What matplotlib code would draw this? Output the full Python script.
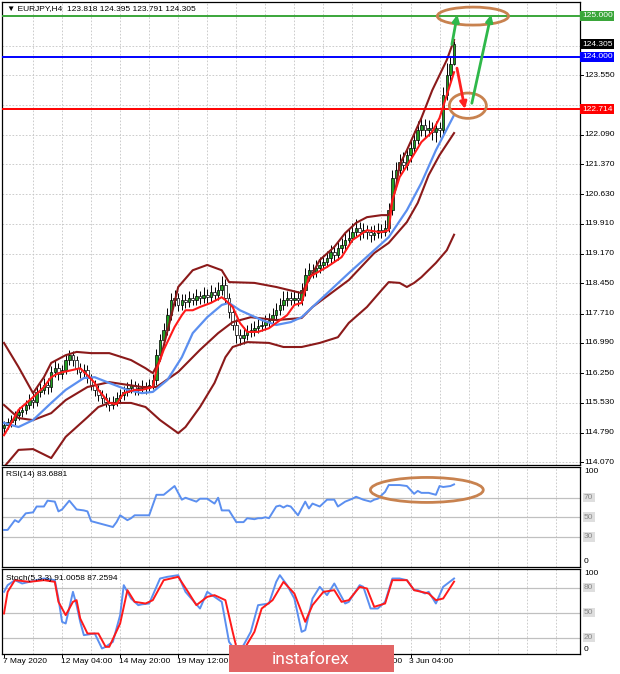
import matplotlib
matplotlib.use("Agg")
import matplotlib.pyplot as plt
import matplotlib.transforms as mtransforms
from matplotlib.patches import Ellipse, Rectangle

# ---------------- data ----------------
title_text = "\u25bc EURJPY,H4  123.818 124.395 123.791 124.305"
rsi_title = "RSI(14) 83.6881"
stoch_title = "Stoch(5,3,3) 91.0058 87.2594"

opens = [114.90, 114.98, 115.05, 115.10, 115.22, 115.30, 115.35, 115.47, 115.59, 115.55,
         115.79, 115.84, 115.96, 115.90, 116.28, 116.37, 116.22, 116.32, 116.58, 116.69,
         116.57, 116.37, 116.28, 116.33, 116.13, 115.96, 115.84, 115.71, 115.64, 115.54,
         115.47, 115.54, 115.64, 115.71, 115.79, 115.88, 115.96, 115.84, 115.88, 115.93,
         115.88, 115.96, 116.08, 116.69, 117.06, 117.31, 117.67, 118.04, 118.09, 117.92,
         118.04, 117.99, 118.09, 118.04, 118.14, 118.09, 118.16, 118.11, 118.24, 118.16,
         118.28, 118.41, 118.09, 117.75, 117.43, 117.18, 117.11, 117.18, 117.26, 117.31,
         117.35, 117.40, 117.43, 117.50, 117.55, 117.67, 117.79, 117.92, 118.04, 118.09,
         118.04, 118.09, 118.04, 118.28, 118.65, 118.77, 118.73, 118.82, 118.90, 118.97,
         119.07, 119.22, 119.14, 119.31, 119.39, 119.51, 119.56, 119.71, 119.80, 119.71,
         119.75, 119.71, 119.63, 119.68, 119.75, 119.71, 119.80, 120.24, 121.03, 121.22,
         121.42, 121.35, 121.59, 121.76, 121.96, 122.20, 122.33, 122.20, 122.25, 122.15,
         122.25, 122.20, 123.06, 123.55, 123.818]
highs = [115.07, 115.16, 115.22, 115.32, 115.43, 115.48, 115.60, 115.73, 115.76, 115.91,
         116.00, 116.12, 116.14, 116.42, 116.56, 116.51, 116.46, 116.72, 116.82, 116.80,
         116.68, 116.51, 116.48, 116.44, 116.24, 116.08, 115.96, 115.84, 115.76, 115.66,
         115.68, 115.78, 115.86, 115.94, 116.04, 116.11, 116.06, 116.01, 116.08, 116.04,
         116.11, 116.24, 116.84, 117.22, 117.49, 117.85, 118.22, 118.29, 118.22, 118.19,
         118.20, 118.25, 118.22, 118.32, 118.27, 118.35, 118.31, 118.42, 118.37, 118.47,
         118.62, 118.55, 118.22, 117.89, 117.57, 117.32, 117.37, 117.42, 117.47, 117.52,
         117.57, 117.59, 117.67, 117.73, 117.85, 117.97, 118.09, 118.25, 118.27, 118.23,
         118.29, 118.25, 118.45, 118.82, 118.95, 118.92, 119.02, 119.09, 119.15, 119.25,
         119.39, 119.35, 119.49, 119.57, 119.69, 119.77, 119.92, 120.02, 119.95, 119.92,
         119.89, 119.85, 119.87, 119.93, 119.91, 119.99, 120.42, 121.22, 121.42, 121.62,
         121.66, 121.78, 121.95, 122.17, 122.42, 122.55, 122.47, 122.45, 122.39, 122.43,
         122.41, 123.27, 123.85, 123.99, 124.395]
lows = [114.78, 114.87, 114.93, 114.99, 115.10, 115.17, 115.24, 115.36, 115.40, 115.45,
        115.67, 115.73, 115.75, 115.80, 116.15, 116.09, 116.11, 116.22, 116.45, 116.43,
        116.24, 116.14, 116.16, 116.00, 115.83, 115.70, 115.57, 115.50, 115.41, 115.33,
        115.37, 115.44, 115.53, 115.60, 115.69, 115.77, 115.72, 115.71, 115.77, 115.75,
        115.78, 115.85, 115.97, 116.55, 116.93, 117.19, 117.55, 117.90, 117.77, 117.80,
        117.85, 117.87, 117.91, 117.93, 117.95, 117.97, 117.98, 118.00, 118.03, 118.05,
        118.17, 117.95, 117.60, 117.30, 117.00, 116.93, 116.97, 117.05, 117.13, 117.17,
        117.23, 117.27, 117.31, 117.37, 117.43, 117.55, 117.67, 117.80, 117.90, 117.91,
        117.93, 117.90, 117.93, 118.15, 118.50, 118.57, 118.60, 118.70, 118.77, 118.85,
        118.95, 119.00, 119.03, 119.20, 119.27, 119.40, 119.45, 119.60, 119.50, 119.55,
        119.53, 119.47, 119.50, 119.55, 119.57, 119.60, 119.70, 120.13, 120.90, 121.07,
        121.20, 121.23, 121.43, 121.63, 121.85, 122.07, 122.03, 122.05, 121.97, 121.90,
        122.03, 122.07, 122.93, 123.35, 123.791]
closes = [114.98, 115.05, 115.10, 115.22, 115.30, 115.35, 115.47, 115.59, 115.55, 115.79,
          115.84, 115.96, 115.90, 116.28, 116.37, 116.22, 116.32, 116.58, 116.69, 116.57,
          116.37, 116.28, 116.33, 116.13, 115.96, 115.84, 115.71, 115.64, 115.54, 115.47,
          115.54, 115.64, 115.71, 115.79, 115.88, 115.96, 115.84, 115.88, 115.93, 115.88,
          115.96, 116.08, 116.69, 117.06, 117.31, 117.67, 118.04, 118.09, 117.92, 118.04,
          117.99, 118.09, 118.04, 118.14, 118.09, 118.16, 118.11, 118.24, 118.16, 118.28,
          118.41, 118.09, 117.75, 117.43, 117.18, 117.11, 117.18, 117.26, 117.31, 117.35,
          117.40, 117.43, 117.50, 117.55, 117.67, 117.79, 117.92, 118.04, 118.09, 118.04,
          118.09, 118.04, 118.28, 118.65, 118.77, 118.73, 118.82, 118.90, 118.97, 119.07,
          119.22, 119.14, 119.31, 119.39, 119.51, 119.56, 119.71, 119.80, 119.71, 119.75,
          119.71, 119.63, 119.68, 119.75, 119.71, 119.80, 120.24, 121.03, 121.22, 121.42,
          121.35, 121.59, 121.76, 121.96, 122.20, 122.33, 122.20, 122.25, 122.15, 122.25,
          122.20, 123.06, 123.55, 123.818, 124.305]

# fast moving average (red)
ma_fast_idx = [0, 2, 4, 8, 11, 13, 15, 19, 21, 23, 25, 26, 29, 31, 33, 36, 38, 41, 42, 44,
               47, 49, 50, 52, 54, 57, 60, 61, 63, 65, 67, 70, 73, 75, 78, 80, 82, 84, 89, 93,
               96, 100, 104, 106, 107, 109, 112, 115, 118, 120, 122, 124]
ma_fast_val = [114.73, 115.03, 115.35, 115.66, 115.91, 116.15, 116.25, 116.33, 116.37, 116.20,
               116.01, 115.84, 115.52, 115.49, 115.76, 115.84, 115.84, 115.91, 116.33, 116.82,
               117.38, 117.67, 117.79, 117.79, 117.87, 117.97, 118.11, 118.04, 117.87, 117.48,
               117.26, 117.26, 117.35, 117.48, 117.67, 117.92, 117.97, 118.60, 118.85, 119.09,
               119.51, 119.75, 119.70, 119.75, 120.49, 121.05, 121.47, 121.91, 122.16, 122.50,
               123.06, 123.62]
# slower moving average (blue)
ma_slow_idx = [0, 4, 8, 13, 17, 22, 25, 29, 34, 38, 41, 45, 49, 52, 56, 60, 62, 65, 71, 75,
               79, 82, 85, 95, 102, 106, 111, 115, 119, 124]
ma_slow_val = [115.03, 114.93, 115.10, 115.52, 115.84, 116.13, 116.15, 116.01, 115.84, 115.76,
               115.79, 116.08, 116.64, 117.23, 117.62, 117.92, 117.97, 117.79, 117.55, 117.43,
               117.50, 117.62, 117.87, 118.70, 119.26, 119.58, 120.24, 120.91, 121.71, 122.57]
# Bollinger bands (dark red)
bb_mid_idx = [0, 4, 8, 13, 17, 23, 29, 38, 42, 48, 54, 59, 63, 68, 75, 82, 85, 95, 102, 106,
              111, 114, 117, 120, 124]
bb_mid_val = [115.47, 115.15, 115.10, 115.27, 115.59, 115.91, 116.03, 115.91, 115.91, 116.28,
              116.82, 117.23, 117.50, 117.62, 117.55, 117.60, 117.87, 118.53, 119.19, 119.44,
              119.95, 120.42, 121.10, 121.59, 122.13]
bb_up_idx = [0, 4, 8, 11, 13, 17, 20, 24, 29, 35, 39, 41, 43, 46, 48, 52, 56, 60, 62, 69,
             75, 82, 84, 87, 91, 94, 97, 100, 104, 106, 108, 109, 111, 115, 118, 122, 124]
bb_up_val = [116.99, 116.40, 115.76, 116.15, 116.50, 116.69, 116.77, 116.74, 116.74, 116.57,
             116.37, 116.25, 116.57, 117.62, 118.36, 118.77, 118.90, 118.77, 118.48, 118.46,
             118.36, 118.21, 118.53, 119.02, 119.34, 119.68, 119.93, 120.07, 120.12, 120.12,
             120.81, 121.35, 121.71, 122.50, 123.18, 123.92, 124.41]
bb_lo_idx = [0, 4, 8, 13, 17, 23, 26, 29, 35, 39, 43, 48, 50, 54, 58, 61, 63, 67, 73, 77,
             82, 87, 92, 95, 100, 104, 106, 109, 111, 113, 115, 119, 122, 124]
bb_lo_val = [113.95, 114.37, 114.39, 114.17, 114.69, 115.17, 115.42, 115.52, 115.52, 115.42,
             115.10, 114.78, 114.93, 115.42, 116.01, 116.64, 116.89, 117.01, 116.99, 116.89,
             116.89, 116.99, 117.13, 117.48, 117.87, 118.28, 118.48, 118.46, 118.36, 118.46,
             118.60, 118.95, 119.26, 119.64]

rsi_idx = [0, 1, 3, 4, 6, 8, 9, 11, 12, 14, 15, 16, 18, 20, 22, 23, 24, 27, 30, 31,
           32, 34, 35, 36, 40, 42, 44, 47, 49, 50, 53, 54, 56, 58, 59, 60, 62, 64, 66, 67,
           69, 70, 71, 72, 73, 75, 76, 77, 78, 79, 81, 83, 84, 85, 87, 89, 91, 92, 94, 96,
           97, 99, 101, 102, 103, 105, 106, 109, 111, 113, 114, 115, 117, 119, 120, 121, 123, 124]
rsi_val = [37, 37, 47, 45, 54, 55, 61, 61, 67, 66, 56, 58, 67, 58, 57, 56, 46, 43, 40, 45,
           52, 47, 49, 52, 52, 73, 73, 82, 68, 70, 66, 69, 69, 64, 70, 57, 57, 45, 45, 49,
           48, 49, 49, 50, 49, 61, 62, 60, 62, 61, 52, 66, 59, 64, 61, 68, 68, 61, 66, 69,
           71, 68, 66, 68, 69, 76, 83, 83, 82, 74, 77, 75, 75, 73, 82, 81, 82, 83.69]

stk_idx = [0, 1, 3, 5, 7, 9, 11, 14, 15, 16, 17, 19, 20, 21, 22, 25, 27, 28, 30, 32,
           33, 35, 37, 38, 40, 43, 45, 48, 50, 52, 54, 56, 58, 60, 62, 64, 66, 68, 70, 73,
           75, 76, 78, 80, 82, 83, 85, 87, 89, 91, 94, 95, 98, 99, 101, 103, 105, 107, 109, 111,
           113, 114, 116, 117, 119, 121, 124]
stk_val = [75, 83, 89, 85, 87, 89, 91, 89, 67, 39, 37, 75, 59, 39, 23, 25, 7, 9, 15, 47,
           83, 67, 59, 60, 61, 91, 93, 95, 75, 65, 55, 75, 69, 63, 15, 3, 11, 27, 59, 61,
           87, 95, 83, 67, 27, 29, 67, 81, 71, 85, 61, 63, 83, 81, 55, 55, 63, 91, 91, 89,
           77, 77, 73, 75, 61, 81, 91.01]
std_idx = [0, 1, 3, 7, 11, 14, 15, 17, 19, 20, 21, 23, 26, 28, 29, 32, 34, 36, 39, 41,
           44, 48, 51, 53, 56, 58, 61, 63, 64, 66, 69, 71, 74, 77, 80, 83, 85, 88, 91, 93,
           95, 98, 100, 102, 105, 107, 111, 113, 117, 119, 121, 124]
std_val = [49, 75, 89, 87, 89, 87, 63, 47, 63, 65, 43, 25, 25, 9, 9, 37, 77, 63, 61, 65,
           89, 93, 73, 59, 69, 71, 65, 27, 9, 5, 27, 55, 65, 87, 73, 39, 59, 75, 77, 63,
           65, 81, 79, 57, 61, 89, 89, 77, 73, 65, 67, 87.26]

price_ticks = [114.070, 114.790, 115.530, 116.250, 116.990, 117.710, 118.450, 119.170,
               119.910, 120.630, 121.370, 122.090, 122.810, 123.550, 124.270]
hidden_ticks = [122.810, 124.270]  # covered by the coloured price boxes
level_green = 125.000
level_blue = 124.000
level_red = 122.714
last_price = 124.305

date_idx = [0, 16, 32, 48, 96, 112]
date_labels = ["7 May 2020", "12 May 04:00", "14 May 20:00", "19 May 12:00",
               "29 May 12:00", "3 Jun 04:00"]
grid_step = 8

# ---------------- styling ----------------
W, H = 620, 674
FONT = "Liberation Sans"
FS = 6.0
C_BULL = "#22a022"
C_DRED = "#8b1a1a"
C_RED = "#ff1a1a"
C_BLUE = "#5b8ff0"
C_GREEN = "#3aa63a"
C_GRID = "#c4c4c4"
C_ELL = "#c8824f"
C_ARR_G = "#2fb84a"

plt.rcParams["font.family"] = [FONT, "DejaVu Sans"]

fig = plt.figure(figsize=(W / 100, H / 100), dpi=100)
fig.patch.set_facecolor("white")


def ax_px(l, t, r, b):
    return fig.add_axes([l / W, 1 - b / H, (r - l) / W, (b - t) / H])


ax = ax_px(2, 2, 580, 465)
ax_rsi = ax_px(2, 467, 580, 567)
ax_st = ax_px(2, 569, 580, 654)

XL = (-0.55, 158.7)
for a in (ax, ax_rsi, ax_st):
    a.set_xlim(*XL)
    a.set_xticks([])
    a.set_yticks([])
    for s in a.spines.values():
        s.set_color("black")
        s.set_linewidth(0.9)
    for g in range(grid_step, 160, grid_step):
        a.axvline(g, color=C_GRID, lw=0.6, ls=(0, (2, 2)), zorder=0)

ax.set_ylim(114.0, 125.34)
ax_rsi.set_ylim(-1, 101.5)
ax_st.set_ylim(0.4, 102.4)

for p in price_ticks:
    ax.axhline(p, color=C_GRID, lw=0.6, ls=(0, (2, 2)), zorder=0)

# candles
idx = list(range(len(closes)))
ax.vlines(idx, lows, highs, colors="black", linewidth=0.7, zorder=3)
bottoms = [min(o, c) for o, c in zip(opens, closes)]
heights = [max(abs(c - o), 0.006) for o, c in zip(opens, closes)]
cols = [C_BULL if c >= o else "white" for o, c in zip(opens, closes)]
ax.bar(idx, heights, bottom=bottoms, width=0.7, color=cols, edgecolor="black",
       linewidth=0.5, zorder=4)

# indicator lines
ax.plot(bb_up_idx, bb_up_val, color=C_DRED, lw=1.5, zorder=5)
ax.plot(bb_mid_idx, bb_mid_val, color=C_DRED, lw=1.5, zorder=5)
ax.plot(bb_lo_idx, bb_lo_val, color=C_DRED, lw=1.5, zorder=5)
ax.plot(ma_slow_idx, ma_slow_val, color=C_BLUE, lw=1.6, zorder=6)
ax.plot(ma_fast_idx, ma_fast_val, color=C_RED, lw=1.5, zorder=7)

# horizontal levels
ax.axhline(level_green, color=C_GREEN, lw=1.4, zorder=6)
ax.axhline(level_blue, color="#0000ff", lw=1.4, zorder=6)
ax.axhline(level_red, color="#ff0000", lw=1.4, zorder=6)

# ellipses and arrows
ax.add_patch(Ellipse((129.2, 124.995), 19.6, 0.44, fill=False, ec=C_ELL, lw=2.0, zorder=8,
                     clip_on=False))
ax.add_patch(Ellipse((127.8, 122.80), 10.2, 0.62, fill=False, ec=C_ELL, lw=2.0, zorder=8))
arr = dict(arrowstyle="-|>", lw=2.0, mutation_scale=10, shrinkA=0, shrinkB=0)
ax.annotate("", xy=(124.9, 125.03), xytext=(123.4, 124.30),
            arrowprops=dict(arr, color=C_ARR_G), zorder=9)
ax.annotate("", xy=(134.2, 125.03), xytext=(128.9, 122.86),
            arrowprops=dict(arr, color=C_ARR_G), zorder=9)
ax.annotate("", xy=(127.0, 122.72), xytext=(124.8, 123.72),
            arrowprops=dict(arr, color="#ff2020"), zorder=9)

# right price scale
tr = mtransforms.blended_transform_factory(ax.transAxes, ax.transData)
xlab = 1 + 4 / 578
for p in price_ticks:
    ax.plot([1.0, 1 + 3 / 578], [p, p], transform=tr, color="black", lw=0.7, clip_on=False)
    if p in hidden_ticks:
        continue
    ax.text(xlab, p, f"{p:.3f}", transform=tr, fontsize=FS, va="center", ha="left",
            color="black", clip_on=False)


def price_box(val, fc):
    ax.text(1 + 2 / 578, val, f"{val:.3f}", transform=tr, fontsize=FS, va="center",
            ha="left", color="white", clip_on=False, zorder=20,
            bbox=dict(boxstyle="square,pad=0.2", fc=fc, ec="none"))


price_box(level_green, C_GREEN)
price_box(last_price, "black")
price_box(level_blue, "#0000ff")
price_box(level_red, "#ff0000")

ax.text(5 / 578, 1 - 7 / 463, title_text, transform=ax.transAxes, fontsize=FS, va="center",
        ha="left", color="black", zorder=20)

# RSI panel
for lv in (70, 50, 30):
    ax_rsi.axhline(lv, color="#c0c0c0", lw=0.9, zorder=1)
ax_rsi.plot(rsi_idx, rsi_val, color=C_BLUE, lw=1.4, zorder=5)
ax_rsi.add_patch(Ellipse((116.5, 78), 31.1, 25.6, fill=False, ec=C_ELL, lw=2.0, zorder=8))
ax_rsi.text(4 / 578, 1 - 8 / 100, rsi_title, transform=ax_rsi.transAxes, fontsize=FS,
            va="center", ha="left")
trr = mtransforms.blended_transform_factory(ax_rsi.transAxes, ax_rsi.transData)
ax_rsi.text(xlab, 100.5, "100", transform=trr, fontsize=FS, va="top", ha="left", clip_on=False)
ax_rsi.text(xlab, 1.5, "0", transform=trr, fontsize=FS, va="bottom", ha="left", clip_on=False)
for lv in (70, 50, 30):
    ax_rsi.text(xlab, lv, str(lv), transform=trr, fontsize=FS, va="center", ha="left",
                color="#8a8a8a", clip_on=False,
                bbox=dict(boxstyle="square,pad=0.15", fc="#dedede", ec="none"))

# Stochastic panel
for lv in (80, 50, 20):
    ax_st.axhline(lv, color="#c0c0c0", lw=0.9, zorder=1)
ax_st.plot(stk_idx, stk_val, color=C_BLUE, lw=1.4, zorder=5)
ax_st.plot(std_idx, std_val, color=C_RED, lw=1.4, zorder=6)
ax_st.text(4 / 578, 1 - 9 / 85, stoch_title, transform=ax_st.transAxes, fontsize=FS,
           va="center", ha="left", zorder=10)
trs = mtransforms.blended_transform_factory(ax_st.transAxes, ax_st.transData)
ax_st.text(xlab, 101.5, "100", transform=trs, fontsize=FS, va="top", ha="left", clip_on=False)
ax_st.text(xlab, 2.0, "0", transform=trs, fontsize=FS, va="bottom", ha="left", clip_on=False)
for lv in (80, 50, 20):
    ax_st.text(xlab, lv, str(lv), transform=trs, fontsize=FS, va="center", ha="left",
               color="#8a8a8a", clip_on=False,
               bbox=dict(boxstyle="square,pad=0.15", fc="#dedede", ec="none"))

# date labels
trd = mtransforms.blended_transform_factory(ax_st.transData, ax_st.transAxes)
for i in range(0, 125, 16):
    ax_st.plot([i, i], [0, -3 / 85], transform=trd, color="black", lw=0.7, clip_on=False)
for i, lab in zip(date_idx, date_labels):
    ax_st.text(i - 0.3, -4 / 85, lab, transform=trd, fontsize=FS, va="top", ha="left",
               clip_on=False)

# logo (covers part of the time axis, as in the source)
fig.add_artist(Rectangle((229 / W, 1 - 672 / H), 165 / W, 27 / H, transform=fig.transFigure,
                         fc="#e26565", ec="none", zorder=30))
fig.text(311 / W, 1 - 659 / H, "instaforex", color="white", fontsize=12.5,
         family=["Roboto", "DejaVu Sans"], ha="center", va="center", zorder=31)

fig.savefig("out.png", dpi=100, facecolor="white")
